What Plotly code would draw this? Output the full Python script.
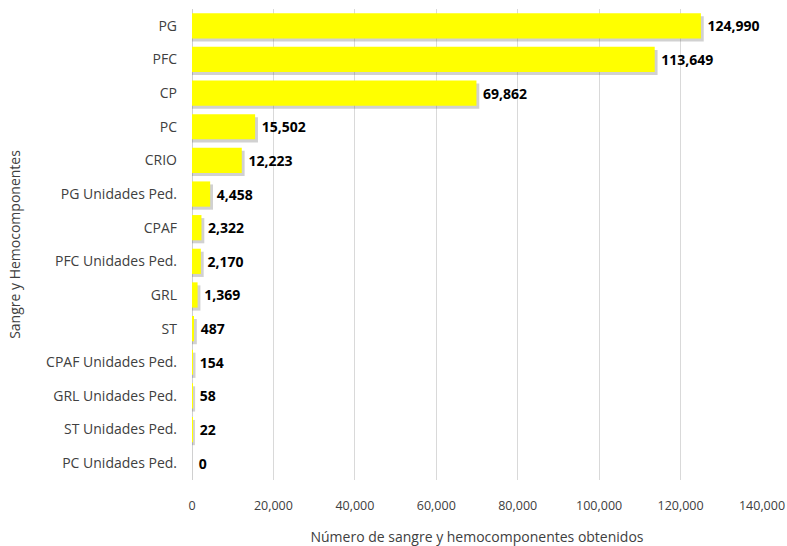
import plotly.graph_objects as go

categorias = ["PG", "PFC", "CP", "PC", "CRIO", "PG Unidades Ped.", "CPAF",
              "PFC Unidades Ped.", "GRL", "ST", "CPAF Unidades Ped.",
              "GRL Unidades Ped.", "ST Unidades Ped.", "PC Unidades Ped."]
valores = [124990, 113649, 69862, 15502, 12223, 4458, 2322, 2170, 1369, 487, 154, 58, 22, 0]

pos = list(range(len(categorias)))
fuente = "Open Sans"

fig = go.Figure()

# sombra de las barras
fig.add_trace(go.Bar(
    x=[v + 700 if v > 0 else 0 for v in valores],
    y=[p + 0.09 for p in pos],
    orientation="h",
    width=0.75,
    marker=dict(color="rgba(90,90,90,0.28)", line=dict(width=0)),
    hoverinfo="skip",
    showlegend=False,
))

fig.add_trace(go.Bar(
    x=valores,
    y=pos,
    orientation="h",
    width=0.75,
    marker=dict(color="#ffff00", line=dict(width=0)),
    text=[" " + f"{v:,}" for v in valores],
    textposition="outside",
    cliponaxis=False,
    textfont=dict(family=fuente, size=14, color="black", weight="bold"),
    showlegend=False,
))

fig.update_layout(
    barmode="overlay",
    width=787, height=546,
    margin=dict(l=192, r=25, t=9, b=66),
    plot_bgcolor="white",
    paper_bgcolor="white",
    font=dict(family=fuente, size=14, color="#404040"),
)

fig.update_xaxes(
    range=[0, 140000],
    tickvals=[0, 20000, 40000, 60000, 80000, 100000, 120000, 140000],
    tickformat=",",
    tickfont=dict(size=12.5),
    ticklabeloverflow="allow",
    showgrid=True, gridcolor="#d9d9d9", gridwidth=1,
    zeroline=True, zerolinecolor="#d0d0d0", zerolinewidth=1,
    ticks="", ticklabelstandoff=16, automargin=False,
    title=dict(text="Número de sangre y hemocomponentes obtenidos", standoff=20,
               font=dict(size=14, color="#404040")),
)

fig.update_yaxes(
    tickvals=pos,
    ticktext=categorias,
    range=[13.5, -0.5],
    showgrid=False, zeroline=False,
    ticks="", ticklabelstandoff=14, automargin=False,
    title=dict(text="Sangre y Hemocomponentes", standoff=22,
               font=dict(size=14, color="#404040")),
)

# sin margen en la pagina, para que la figura ocupe toda la ventana
fig.write_html("out.html", config={"displayModeBar": False},
               post_script="document.body.style.margin='0';")
